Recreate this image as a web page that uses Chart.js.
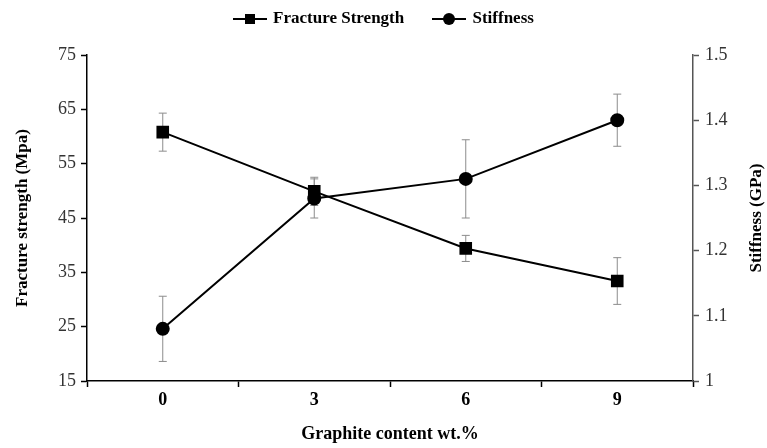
<!DOCTYPE html>
<html>
<head>
<meta charset="utf-8">
<script src="https://cdn.jsdelivr.net/npm/chart.js@4/dist/chart.umd.min.js"></script>
<style>
  body { margin: 0; background: #fff; }
  #wrap { position: relative; width: 767px; height: 448px; }
  #legend {
    position: absolute; top: 7px; left: 0; width: 767px; text-align: center;
    font: bold 17px "Liberation Serif", "Times New Roman", serif; color: #000;
  }
  .item { display: inline-block; margin: 0 12px; vertical-align: middle; }
  .line { display: inline-block; position: relative; width: 34px; height: 2px; background: #000; vertical-align: middle; margin-right: 6px; }
  .sq { position: absolute; left: 12px; top: -4px; width: 10px; height: 10px; background: #000; }
  .ci { position: absolute; left: 11px; top: -5px; width: 12px; height: 12px; background: #000; border-radius: 50%; }
</style>
</head>
<body>
<div id="wrap">
  <canvas id="chart" width="767" height="448"></canvas>
  <div id="legend">
    <span class="item"><span class="line"><span class="sq"></span></span>Fracture Strength</span>
    <span class="item"><span class="line"><span class="ci"></span></span>Stiffness</span>
  </div>
</div>
<script>
// valores
const categories = ['0', '3', '6', '9'];
const strength = [60.8, 49.9, 39.4, 33.4];      // MPa
const strengthErr = [3.5, 2.6, 2.4, 4.3];
const stiffness = [1.08, 1.28, 1.31, 1.40];     // GPa
const stiffnessErr = [0.05, 0.03, 0.06, 0.04];

const serif = '"Liberation Serif", "Times New Roman", serif';

// barras de erro cinzas
const errorBars = {
  id: 'errorBars',
  beforeDatasetsDraw(chart) {
    const ctx = chart.ctx;
    const errs = [strengthErr, stiffnessErr];
    chart.data.datasets.forEach((ds, di) => {
      const meta = chart.getDatasetMeta(di);
      const scale = chart.scales[ds.yAxisID];
      ctx.save();
      ctx.strokeStyle = '#8c8c8c';
      ctx.lineWidth = 1;
      meta.data.forEach((pt, i) => {
        const v = ds.data[i], e = errs[di][i];
        const yT = scale.getPixelForValue(v + e);
        const yB = scale.getPixelForValue(v - e);
        ctx.beginPath();
        ctx.moveTo(pt.x, yT); ctx.lineTo(pt.x, yB);
        ctx.moveTo(pt.x - 4, yT); ctx.lineTo(pt.x + 4, yT);
        ctx.moveTo(pt.x - 4, yB); ctx.lineTo(pt.x + 4, yB);
        ctx.stroke();
      });
      ctx.restore();
    });
  }
};

// título do eixo direito, lido de baixo para cima
const rightTitle = {
  id: 'rightTitle',
  afterDraw(chart) {
    const ctx = chart.ctx;
    const a = chart.chartArea;
    ctx.save();
    ctx.translate(757, (a.top + a.bottom) / 2);
    ctx.rotate(-Math.PI / 2);
    ctx.font = 'bold 17px ' + serif;
    ctx.fillStyle = '#000';
    ctx.textAlign = 'center';
    ctx.textBaseline = 'middle';
    ctx.fillText('Stiffness (GPa)', 0, 0);
    ctx.restore();
  }
};

new Chart(document.getElementById('chart'), {
  type: 'line',
  data: {
    labels: categories,
    datasets: [
      {
        label: 'Fracture Strength',
        data: strength,
        yAxisID: 'y',
        borderColor: '#000',
        backgroundColor: '#000',
        borderWidth: 2,
        pointStyle: 'rect',
        pointRadius: 7.5,
        tension: 0
      },
      {
        label: 'Stiffness',
        data: stiffness,
        yAxisID: 'y1',
        borderColor: '#000',
        backgroundColor: '#000',
        borderWidth: 2,
        pointStyle: 'circle',
        pointRadius: 6,
        tension: 0
      }
    ]
  },
  options: {
    responsive: false,
    animation: false,
    layout: { padding: { top: 55, left: 0, right: 0, bottom: 0 } },
    plugins: { legend: { display: false }, tooltip: { enabled: false } },
    scales: {
      x: {
        offset: true,
        grid: { offset: true, drawOnChartArea: false, color: '#000', tickLength: 6, tickWidth: 1.5 },
        border: { color: '#000', width: 1.5 },
        ticks: { color: '#000', font: { family: serif, size: 18, weight: 'bold' }, padding: 3 },
        title: { display: true, text: 'Graphite content wt.%', color: '#000', font: { family: serif, size: 18, weight: 'bold' }, padding: { top: 0, bottom: 3 } },
        afterFit(s) { s.height = 67; }
      },
      y: {
        position: 'left',
        min: 15, max: 75,
        ticks: { stepSize: 10, color: '#333', font: { family: serif, size: 18 }, padding: 5 },
        grid: { drawOnChartArea: false, color: '#000', tickLength: 6, tickWidth: 1.5 },
        border: { color: '#000', width: 1.5 },
        title: { display: true, text: 'Fracture strength (Mpa)', color: '#000', font: { family: serif, size: 17, weight: 'bold' }, padding: { top: 12, bottom: 0 } },
        afterFit(s) { s.width = 87; }
      },
      y1: {
        position: 'right',
        min: 1, max: 1.5,
        ticks: {
          stepSize: 0.1, color: '#333', font: { family: serif, size: 18 }, padding: 6,
          callback: v => String(Number(v.toFixed(1)))
        },
        grid: { drawOnChartArea: false, color: '#555', tickLength: 6, tickWidth: 1.5 },
        border: { color: '#555', width: 1.5 },
        afterFit(s) { s.width = 74; }
      }
    }
  },
  plugins: [errorBars, rightTitle]
});
</script>
</body>
</html>
